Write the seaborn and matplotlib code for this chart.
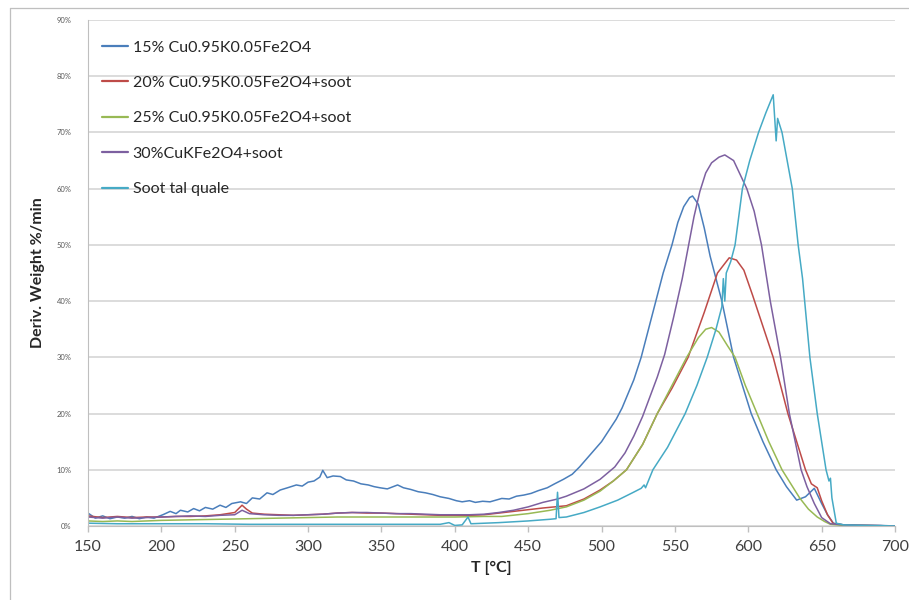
import numpy as np
import pandas as pd
import matplotlib
matplotlib.use('Agg')
import matplotlib.pyplot as plt
from matplotlib.lines import Line2D
import seaborn as sns

# series names as in the legend
names = ['15% Cu0.95K0.05Fe2O4', '20% Cu0.95K0.05Fe2O4+soot', '25% Cu0.95K0.05Fe2O4+soot',
         '30%CuKFe2O4+soot', 'Soot tal quale']
colors = ['#4A7EBB', '#BE4B48', '#98B954', '#7D60A0', '#46AAC5']

# values (T in degC, deriv. weight in %/min)
t_15 = [150, 155, 160, 165, 170, 175, 180, 185, 190, 195, 201, 206, 210, 213, 218, 222, 226, 230, 235, 240,
        244, 248, 254, 258, 262, 267, 272, 276, 281, 286, 292, 296, 300, 304, 308, 310, 313, 317, 322, 326,
        331, 336, 341, 345, 349, 354, 358, 361, 365, 370, 375, 380, 385, 390, 396, 401, 405, 410, 414, 419,
        424, 428, 432, 437, 442, 447, 452, 457, 463, 468, 474, 480, 485, 490, 495, 500, 505, 510, 514, 518,
        522, 527, 532, 537, 542, 548, 552, 556, 560, 562, 566, 570, 574, 578, 582, 586, 590, 596, 602, 610,
        619, 626, 633, 639, 645, 650, 654, 658, 665, 675, 690, 700]
v_15 = [2.3, 1.4, 1.8, 1.3, 1.6, 1.4, 1.7, 1.3, 1.6, 1.4, 2.0, 2.6, 2.2, 2.8, 2.5, 3.1, 2.7, 3.3, 3.0, 3.7,
        3.3, 4.0, 4.3, 4.0, 5.0, 4.8, 5.9, 5.6, 6.4, 6.8, 7.3, 7.1, 7.8, 8.0, 8.7, 9.9, 8.6, 8.9, 8.8, 8.2,
        8.0, 7.5, 7.3, 7.0, 6.8, 6.6, 7.0, 7.3, 6.8, 6.5, 6.1, 5.9, 5.6, 5.2, 4.9, 4.5, 4.3, 4.5, 4.2, 4.4,
        4.3, 4.6, 4.9, 4.8, 5.3, 5.5, 5.8, 6.3, 6.8, 7.5, 8.3, 9.2, 10.5, 12.0, 13.5, 15.0, 17.0, 19.0, 21.0, 23.5,
        26.0, 30.0, 35.0, 40.0, 45.0, 50.0, 54.0, 56.8, 58.4, 58.7, 57.2, 53.0, 48.0, 44.0, 40.0, 35.0, 30.0, 25.0, 20.0, 15.0,
        10.0, 7.0, 4.6, 5.2, 6.7, 4.0, 2.0, 0.5, 0.2, 0.1, 0.1, 0.0]

t_20 = [150, 160, 170, 180, 190, 200, 210, 220, 230, 240, 250, 255, 258, 262, 270, 280, 290, 300, 310, 320,
        330, 340, 350, 360, 370, 380, 390, 400, 410, 420, 430, 440, 450, 460, 476, 488, 499, 508, 517, 528,
        538, 548, 559, 570, 579, 587, 592, 597, 603, 610, 617, 627, 633, 639, 643, 647, 650, 654, 658, 665, 700]
v_20 = [1.8, 1.5, 1.7, 1.5, 1.6, 1.6, 1.7, 1.7, 1.8, 2.0, 2.4, 3.7, 3.0, 2.3, 2.1, 2.0, 1.9, 2.0, 2.1, 2.3,
        2.4, 2.3, 2.3, 2.2, 2.1, 2.0, 1.9, 1.9, 1.9, 2.0, 2.3, 2.6, 2.9, 3.2, 3.6, 4.8, 6.4, 8.0, 10.0, 14.5,
        20.0, 24.5, 30.0, 38.0, 45.0, 47.7, 47.3, 45.5, 41.0, 35.5, 30.0, 20.0, 15.0, 10.0, 7.5, 6.8, 4.5, 2.0, 0.4, 0.2, 0.0]

t_25 = [150, 160, 170, 180, 190, 200, 220, 240, 260, 280, 300, 320, 340, 360, 380, 400, 420, 432, 450, 465,
        476, 488, 499, 508, 517, 528, 538, 548, 558, 566, 571, 575, 580, 586, 591, 598, 606, 614, 623, 629,
        635, 641, 647, 652, 656, 665, 700]
v_25 = [0.9, 0.8, 0.9, 0.8, 0.9, 1.0, 1.1, 1.2, 1.3, 1.4, 1.5, 1.6, 1.6, 1.6, 1.6, 1.6, 1.7, 1.7, 2.2, 2.8,
        3.4, 4.6, 6.2, 8.0, 10.0, 14.5, 20.0, 25.0, 30.0, 33.5, 35.0, 35.3, 34.5, 32.0, 30.0, 25.0, 20.0, 15.0, 10.0, 7.5,
        5.0, 3.0, 1.6, 0.8, 0.3, 0.1, 0.0]

t_30 = [150, 160, 170, 180, 190, 200, 210, 220, 230, 240, 250, 255, 260, 270, 280, 290, 300, 310, 320, 330,
        340, 350, 360, 370, 380, 390, 400, 410, 420, 430, 440, 450, 460, 470, 476, 488, 499, 509, 516, 522,
        528, 533, 538, 543, 549, 555, 559, 563, 567, 571, 575, 580, 584, 590, 599, 604, 609, 612, 615, 622,
        628, 636, 640, 645, 650, 656, 665, 680, 700]
v_30 = [1.6, 1.4, 1.6, 1.4, 1.5, 1.6, 1.7, 1.8, 1.7, 1.9, 2.0, 2.8, 2.2, 2.0, 1.9, 1.9, 2.0, 2.1, 2.3, 2.4,
        2.4, 2.3, 2.2, 2.2, 2.1, 2.0, 2.0, 2.0, 2.1, 2.4, 2.8, 3.4, 4.2, 4.8, 5.3, 6.6, 8.3, 10.5, 13.0, 16.0,
        19.5, 23.0, 26.5, 30.5, 37.0, 44.0, 49.5, 55.0, 59.5, 62.8, 64.6, 65.6, 66.0, 65.0, 60.0, 56.0, 50.0, 45.0, 40.0, 30.0,
        20.0, 10.0, 7.0, 4.0, 1.5, 0.4, 0.2, 0.1, 0.0]

t_soot = [150, 170, 200, 230, 260, 300, 350, 390, 396, 400, 405, 409, 411, 430, 450, 465, 469, 470, 471, 476,
          488, 499, 511, 521, 527, 529, 530, 535, 545, 551, 557, 565, 572, 578, 582, 583, 584, 585, 588, 591,
          596, 601, 607, 612, 617, 619, 620, 623, 630, 634, 637, 642, 647, 653, 655, 656, 657, 660, 665, 700]
v_soot = [0.5, 0.4, 0.4, 0.4, 0.3, 0.3, 0.3, 0.3, 0.6, 0.1, 0.2, 1.6, 0.4, 0.6, 0.9, 1.2, 1.3, 6.0, 1.5, 1.6,
          2.4, 3.4, 4.6, 5.9, 6.7, 7.3, 6.8, 10.0, 14.0, 17.0, 20.0, 25.0, 30.0, 35.0, 39.0, 44.0, 40.0, 45.0, 47.0, 50.0,
          60.0, 65.0, 70.0, 73.5, 76.7, 68.5, 72.5, 70.0, 60.0, 50.0, 44.0, 30.0, 20.0, 10.0, 8.0, 8.5, 5.0, 0.5, 0.2, 0.0]

x_ticks = [150, 200, 250, 300, 350, 400, 450, 500, 550, 600, 650, 700]
y_ticks = [0, 10, 20, 30, 40, 50, 60, 70, 80, 90]

frames = []
for name, t, v in zip(names, [t_15, t_20, t_25, t_30, t_soot], [v_15, v_20, v_25, v_30, v_soot]):
    frames.append(pd.DataFrame({'T': t, 'val': v, 'series': name}))
df = pd.concat(frames, ignore_index=True)

sns.set_style('white')
plt.rcParams['font.family'] = ['Lato', 'DejaVu Sans']

fig = plt.figure(figsize=(9.09, 6.0), dpi=100)
ax = fig.add_axes([88 / 909, 1 - 526 / 600, (895 - 88) / 909, (526 - 20) / 600])

sns.lineplot(data=df, x='T', y='val', hue='series', hue_order=names, palette=colors,
             estimator=None, linewidth=1.1, ax=ax)

ax.set_xlim(150, 700)
ax.set_ylim(0, 90)
ax.set_xticks(x_ticks)
ax.set_yticks(y_ticks)
ax.set_yticklabels([f'{y}%' for y in y_ticks], fontsize=5.5, color='#595959')
ax.set_xticklabels([str(x) for x in x_ticks], fontsize=11.5, color='#404040')
ax.tick_params(axis='x', length=4, color='#BFBFBF', width=1, pad=6, direction='out', bottom=True)
ax.tick_params(axis='y', length=0, pad=12)
ax.yaxis.grid(True, color='#D9D9D9', linewidth=1.3)
ax.set_axisbelow(True)
for s in ['top', 'right']:
    ax.spines[s].set_visible(False)
ax.spines['left'].set_color('#BFBFBF')
ax.spines['bottom'].set_color('#BFBFBF')

ax.set_xlabel('T [°C]', fontsize=11.5, fontweight='bold', color='#262626', labelpad=5)
ax.set_ylabel('Deriv. Weight %/min', fontsize=11.5, fontweight='bold', color='#262626', labelpad=8)

leg = ax.legend(loc='upper left', bbox_to_anchor=(0.0, 0.988), frameon=False, fontsize=11.5,
                labelspacing=1.33, handlelength=1.6, handletextpad=0.3, labelcolor='#262626')
for h in leg.get_lines():
    h.set_linewidth(1.6)

# thin chart border like the Excel frame
fig.add_artist(Line2D([10 / 909, 10 / 909], [0, 1 - 8 / 600], color='#BFBFBF', linewidth=0.9))
fig.add_artist(Line2D([10 / 909, 1], [1 - 8 / 600, 1 - 8 / 600], color='#BFBFBF', linewidth=0.9))

fig.savefig('out.png', dpi=100)
